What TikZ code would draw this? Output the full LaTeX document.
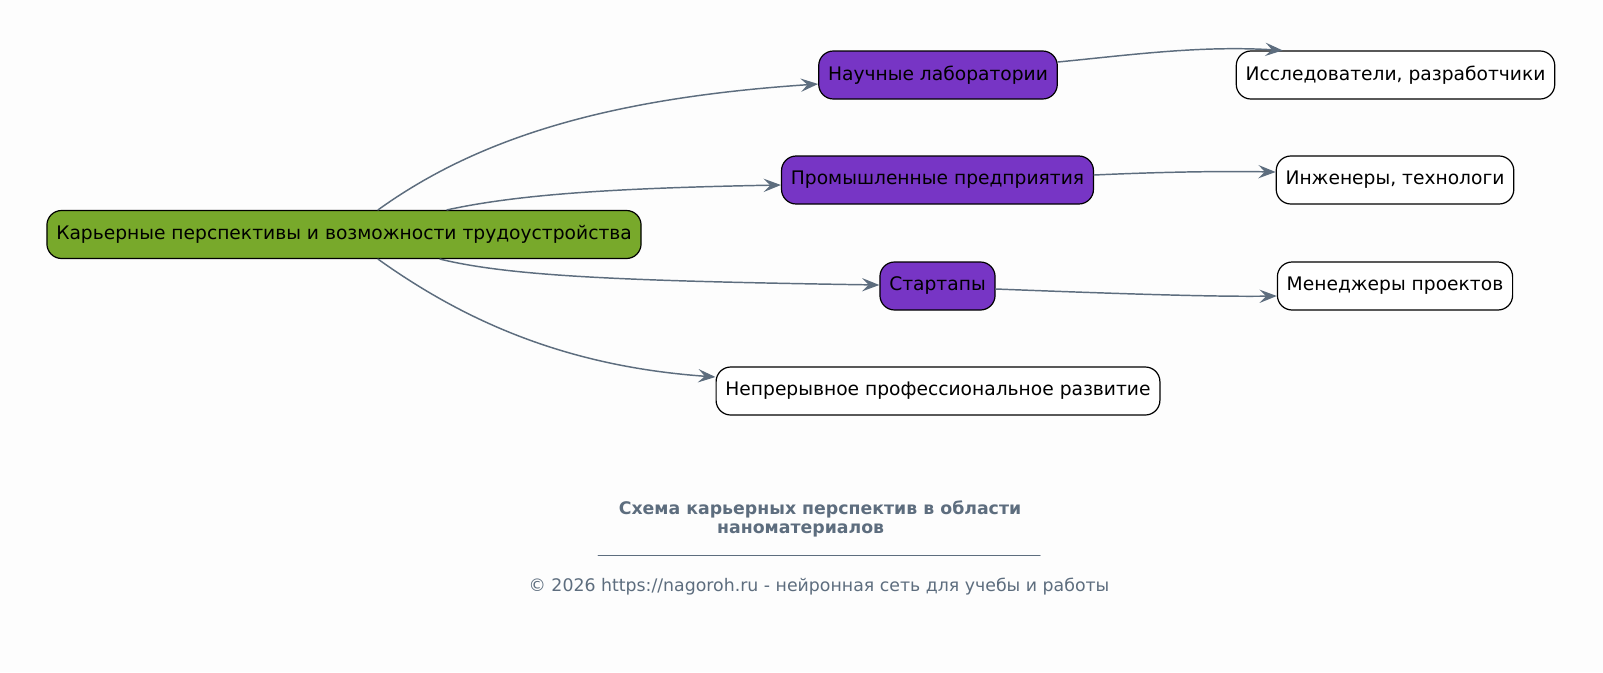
\documentclass[tikz,border=0pt]{standalone}
\usepackage{fontspec}
\setmainfont{DejaVu Sans}
\usetikzlibrary{arrows.meta}
\definecolor{slate}{HTML}{5D6D7E}
\definecolor{rootgreen}{HTML}{78A92B}
\definecolor{branchviolet}{HTML}{7735C5}
\definecolor{paper}{HTML}{FDFDFD}

\begin{document}
\begin{tikzpicture}[x=0.75pt, y=-0.75pt, line join=round, line cap=round,
	>={Stealth[length=13pt, width=10pt, inset=5pt]},
	font=\fontsize{14}{17}\selectfont,
	box/.style={draw=black, line width=0.9pt, rounded corners=11pt, minimum height=36pt, inner xsep=7pt, inner ysep=0pt, fill=white},
	root/.style={box, fill=rootgreen},
	branch/.style={box, fill=branchviolet},
	edge/.style={->, draw=slate, line width=1.1pt},
	caption/.style={text=slate, font=\fontsize{13}{14}\selectfont, align=center}]
	
	\fill[paper] (0,0) rectangle (1603,672);
	\useasboundingbox (0,0) rectangle (1603,672);
	
	\node[root] (career) at (344,234.5) {Карьерные перспективы и возможности трудоустройства};
	\node[branch] (labs) at (938,75) {Научные лаборатории};
	\node[branch] (industry) at (937.5,180) {Промышленные предприятия};
	\node[branch] (startups) at (937.5,286) {Стартапы};
	\node[box] (growth) at (938,391) {Непрерывное профессиональное развитие};
	\node[box] (research) at (1395.5,75) {Исследователи, разработчики};
	\node[box] (engineers) at (1395,180) {Инженеры, технологи};
	\node[box] (managers) at (1395,286) {Менеджеры проектов};
	
	\draw[edge] ([shift={(34,0)}]career.north) .. controls +(100,-72) and +(-210,14) .. ([shift={(0,9)}]labs.west);
	\draw[edge] ([shift={(103,0)}]career.north) .. controls +(73,-16) and +(-161,3) .. ([shift={(0,5)}]industry.west);
	\draw[edge] ([shift={(96,0)}]career.south) .. controls +(70,17) and +(-258,-4) .. ([shift={(0,-1)}]startups.west);
	\draw[edge] ([shift={(34,0)}]career.south) .. controls +(95,68) and +(-140,-10) .. ([shift={(0,-14)}]growth.west);
	
	\draw[edge] ([shift={(0,-13)}]labs.east) .. controls +(72,-7) and +(-83,-5) .. ([shift={(47,0)}]research.north west);
	\draw[edge] ([shift={(0,-5)}]industry.east) .. controls +(66,-3) and +(-56,-1) .. ([shift={(0,-8)}]engineers.west);
	\draw[edge] ([shift={(0,3)}]startups.east) .. controls +(103,4) and +(-67,1) .. ([shift={(0,10)}]managers.west);
	
	\node[caption, font=\fontsize{13}{14}\selectfont\bfseries] (title) at (820,519) {Схема карьерных перспектив в области\\наноматериалов\hspace*{29pt}};
	\path (598,555) coordinate (ruleL) (1040,555) coordinate (ruleR);
	\draw[slate, line width=0.75pt] (ruleL) -- (ruleR);
	\node[caption] (credit) at (819,587) {© 2026 https://nagoroh.ru - нейронная сеть для учебы и работы};
\end{tikzpicture}
\end{document}
